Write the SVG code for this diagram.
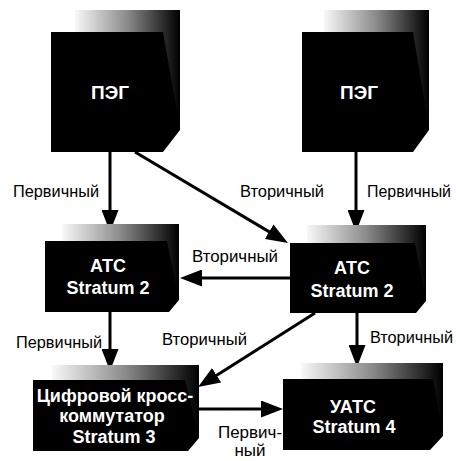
<svg xmlns="http://www.w3.org/2000/svg" width="456" height="461" viewBox="0 0 456 461">
<defs>
<linearGradient id="g" x1="0" y1="0" x2="1" y2="0">
<stop offset="0" stop-color="#f8f8f8"/>
<stop offset="0.5" stop-color="#8a8a8a"/>
<stop offset="1" stop-color="#000"/>
</linearGradient>
<marker id="ah" markerUnits="userSpaceOnUse" markerWidth="22" markerHeight="17" refX="12" refY="8.5" orient="auto">
<path d="M0,0 L22,8.5 L0,17 Z" fill="#000"/>
</marker>
<style>
.back{fill:url(#g)}
.front{fill:#000}
.t{font-family:"Liberation Sans",Arial,sans-serif;font-weight:bold;font-size:18px;fill:#fff;text-anchor:middle}
.big{font-size:19px}
.lbl{font-family:"Liberation Sans",Arial,sans-serif;font-size:17px;fill:#000}
.sm{font-size:16px}
.c{stroke:#000;stroke-width:3;fill:none;marker-end:url(#ah)}
</style>
</defs>
<rect width="456" height="461" fill="#fff"/>
<g id="connectors">
<line class="c" x1="110" y1="152" x2="110" y2="222"/>
<line class="c" x1="135" y1="152" x2="279.4" y2="237.9"/>
<line class="c" x1="356" y1="152" x2="356" y2="222"/>
<line class="c" x1="290" y1="278" x2="190" y2="278"/>
<line class="c" x1="110" y1="312" x2="110" y2="361"/>
<line class="c" x1="315" y1="313" x2="206.5" y2="381.7"/>
<line class="c" x1="357" y1="313" x2="357" y2="357"/>
<line class="c" x1="199" y1="409" x2="273" y2="409"/>
</g>
<g id="labels">
<text class="lbl" x="13" y="197" textLength="86" lengthAdjust="spacingAndGlyphs">Первичный</text>
<text class="lbl" x="240" y="197" textLength="84" lengthAdjust="spacingAndGlyphs">Вторичный</text>
<text class="lbl sm" x="367" y="197" textLength="84" lengthAdjust="spacingAndGlyphs">Первичный</text>
<text class="lbl" x="192" y="262" textLength="86" lengthAdjust="spacingAndGlyphs">Вторичный</text>
<text class="lbl" x="16" y="348" textLength="86" lengthAdjust="spacingAndGlyphs">Первичный</text>
<text class="lbl" x="162" y="345" textLength="85" lengthAdjust="spacingAndGlyphs">Вторичный</text>
<text class="lbl sm" x="370" y="343" textLength="83" lengthAdjust="spacingAndGlyphs">Вторичный</text>
<text class="lbl" x="250" y="438" text-anchor="middle">Первич-</text>
<text class="lbl" x="250" y="456" text-anchor="middle">ный</text>
</g>
<g id="peg1">
<rect class="back" x="75" y="10" width="105" height="120"/>
<polygon class="front" points="51,32 163,32 180,130 163,152 51,152"/>
<text class="t big" x="110" y="99">ПЭГ</text>
</g>
<g id="peg2">
<rect class="back" x="324" y="10" width="105" height="120"/>
<polygon class="front" points="302,32 413,32 429,130 413,152 302,152"/>
<text class="t big" x="359" y="99">ПЭГ</text>
</g>
<g id="atc1">
<rect class="back" x="62" y="224" width="117" height="76"/>
<polygon class="front" points="45,241 167,241 179,300 169,312 45,312"/>
<text class="t" x="108" y="272">АТС</text>
<text class="t" x="108" y="294">Stratum 2</text>
</g>
<g id="atc2">
<rect class="back" x="307" y="225" width="119" height="76"/>
<polygon class="front" points="290,243 415,243 426,301 416,313 290,313"/>
<text class="t" x="352" y="274">АТС</text>
<text class="t" x="352" y="297">Stratum 2</text>
</g>
<g id="cross">
<rect class="back" x="52" y="365" width="147" height="73"/>
<polygon class="front" points="33,380 185,380 199,438 188,451 33,451"/>
<text class="t" x="115" y="402">Цифровой кросс-</text>
<text class="t" x="112" y="422">коммутатор</text>
<text class="t" x="114" y="443">Stratum 3</text>
</g>
<g id="uats">
<rect class="back" x="301" y="363" width="142" height="73"/>
<polygon class="front" points="283,379 433,379 443,436 430,450 283,450"/>
<text class="t" x="353" y="413">УАТС</text>
<text class="t" x="354" y="433">Stratum 4</text>
</g>
</svg>
